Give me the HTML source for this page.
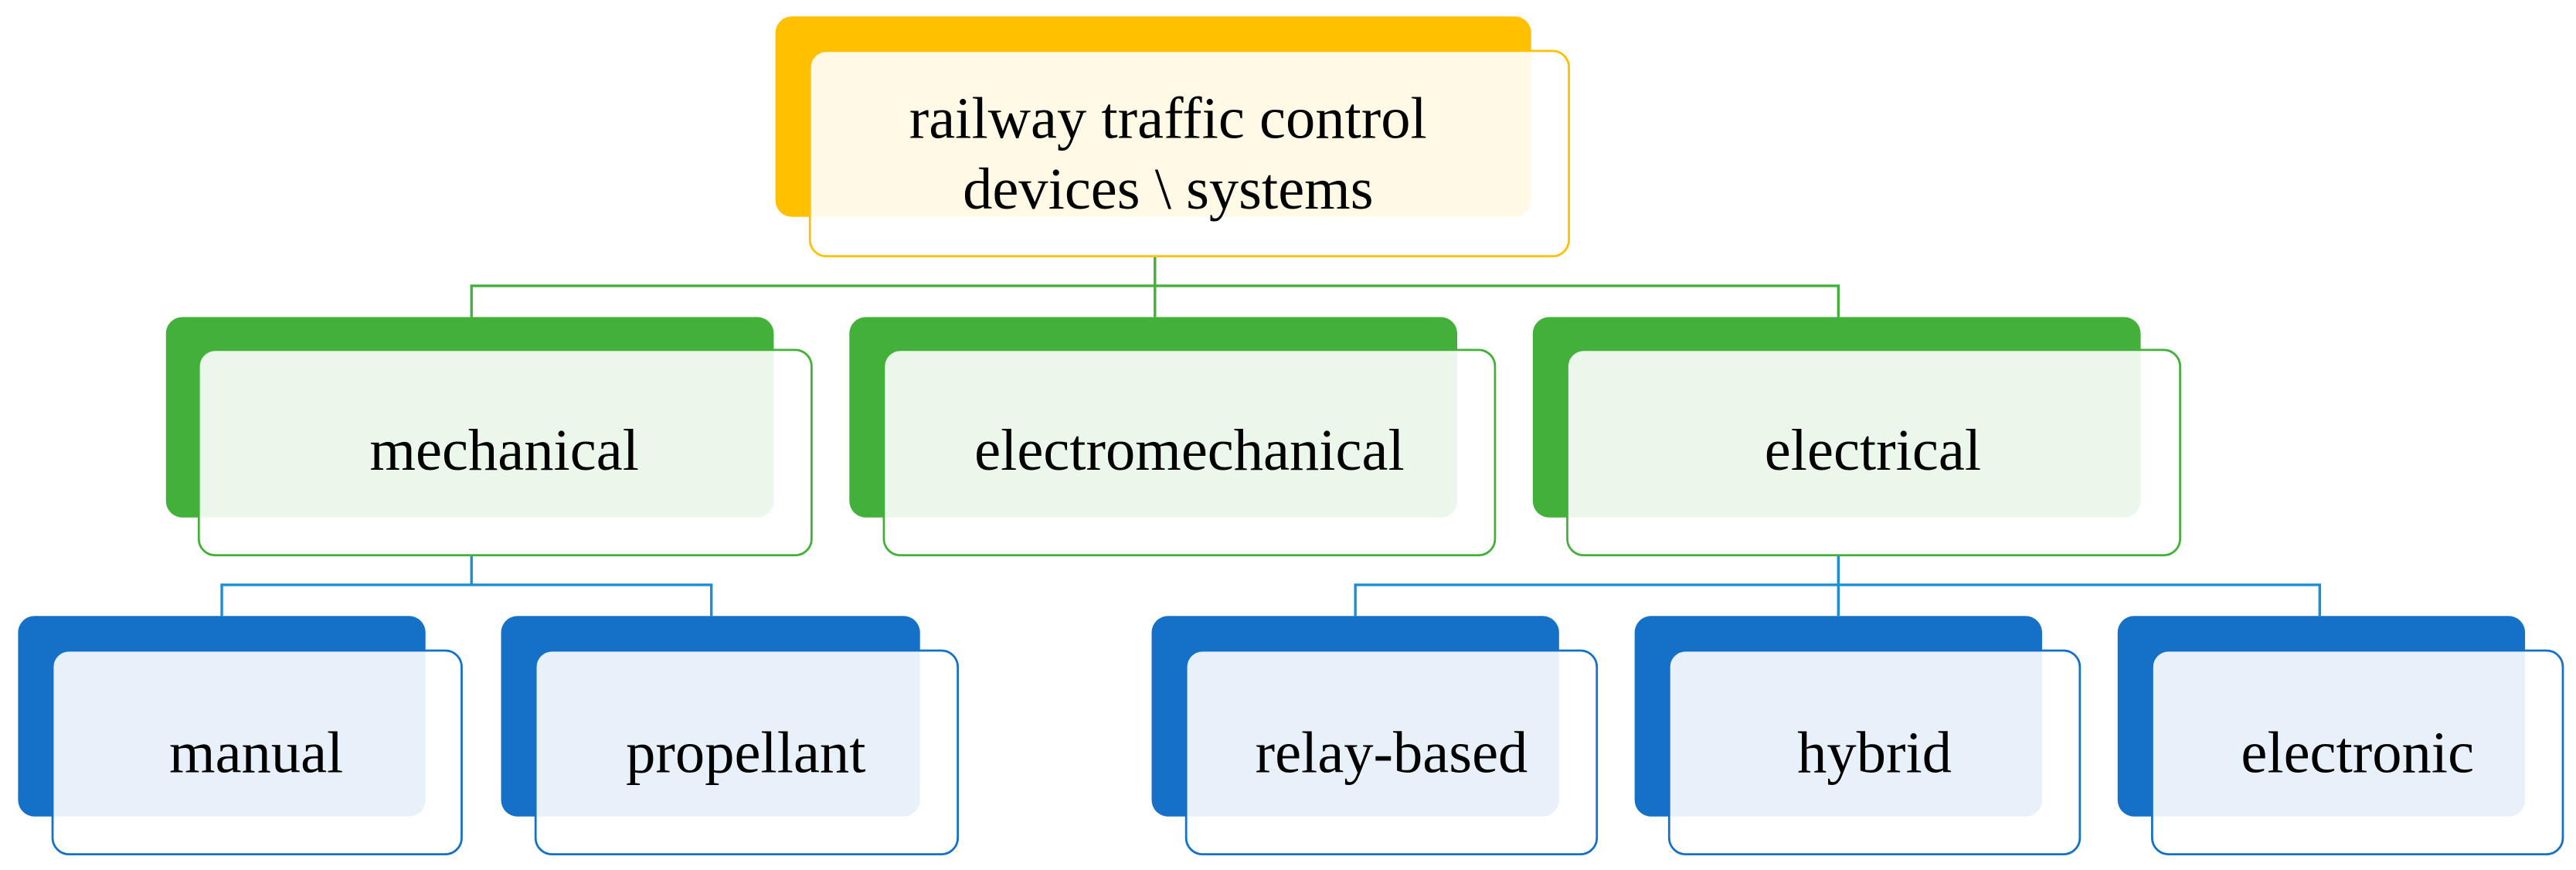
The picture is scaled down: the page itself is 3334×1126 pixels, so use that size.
<!DOCTYPE html>
<html><head><meta charset="utf-8"><style>html,body{margin:0;padding:0;background:#fff}svg{display:block}</style></head>
<body>
<svg width="3334" height="1126" viewBox="0 0 1568 529.6" preserveAspectRatio="none" xmlns="http://www.w3.org/2000/svg" font-family="'Liberation Serif', serif" fill="#000">
<g fill="none" stroke-width="1.6">
<path d="M703 156 V193 M287 193 V174 H1119 V193" stroke="#43B03A"/>
<path d="M287 338 V356 M135 375 V356 H433 V375" stroke="#1A8FD8"/>
<path d="M1119 338 V375 M825 375 V356 H1412 V375" stroke="#1A8FD8"/>
</g>
<!-- top -->
<rect x="472" y="10" width="460" height="122" rx="10" fill="#FFC000"/>
<rect x="493" y="31" width="462" height="125" rx="10" fill="#fff" fill-opacity="0.9" stroke="#FFC000" stroke-width="1.3"/>
<text x="711" y="84" font-size="36" text-anchor="middle">railway traffic control</text>
<text x="711" y="127" font-size="36" text-anchor="middle">devices \ systems</text>
<!-- level 2 -->
<g>
<rect x="101" y="193" width="370" height="122" rx="10" fill="#43B03A"/>
<rect x="121" y="213" width="373" height="125" rx="10" fill="#fff" fill-opacity="0.9" stroke="#43B03A" stroke-width="1.3"/>
<rect x="517" y="193" width="370" height="122" rx="10" fill="#43B03A"/>
<rect x="538" y="213" width="372" height="125" rx="10" fill="#fff" fill-opacity="0.9" stroke="#43B03A" stroke-width="1.3"/>
<rect x="933" y="193" width="370" height="122" rx="10" fill="#43B03A"/>
<rect x="954" y="213" width="373" height="125" rx="10" fill="#fff" fill-opacity="0.9" stroke="#43B03A" stroke-width="1.3"/>
</g>
<text x="307" y="286" font-size="36" text-anchor="middle">mechanical</text>
<text x="724" y="286" font-size="36" text-anchor="middle">electromechanical</text>
<text x="1140" y="286" font-size="36" text-anchor="middle">electrical</text>
<!-- level 3 -->
<g>
<rect x="11" y="375" width="248" height="122" rx="10" fill="#1570C8"/>
<rect x="32" y="396" width="249" height="124" rx="10" fill="#fff" fill-opacity="0.9" stroke="#1570C8" stroke-width="1.3"/>
<rect x="305" y="375" width="255" height="122" rx="10" fill="#1570C8"/>
<rect x="326" y="396" width="257" height="124" rx="10" fill="#fff" fill-opacity="0.9" stroke="#1570C8" stroke-width="1.3"/>
<rect x="701" y="375" width="248" height="122" rx="10" fill="#1570C8"/>
<rect x="722" y="396" width="250" height="124" rx="10" fill="#fff" fill-opacity="0.9" stroke="#1570C8" stroke-width="1.3"/>
<rect x="995" y="375" width="248" height="122" rx="10" fill="#1570C8"/>
<rect x="1016" y="396" width="250" height="124" rx="10" fill="#fff" fill-opacity="0.9" stroke="#1570C8" stroke-width="1.3"/>
<rect x="1289" y="375" width="248" height="122" rx="10" fill="#1570C8"/>
<rect x="1310" y="396" width="250" height="124" rx="10" fill="#fff" fill-opacity="0.9" stroke="#1570C8" stroke-width="1.3"/>
</g>
<text x="156" y="470" font-size="36" text-anchor="middle">manual</text>
<text x="454" y="470" font-size="36" text-anchor="middle">propellant</text>
<text x="847" y="470" font-size="36" text-anchor="middle">relay-based</text>
<text x="1141" y="470" font-size="36" text-anchor="middle">hybrid</text>
<text x="1435" y="470" font-size="36" text-anchor="middle">electronic</text>
</svg>
</body></html>
